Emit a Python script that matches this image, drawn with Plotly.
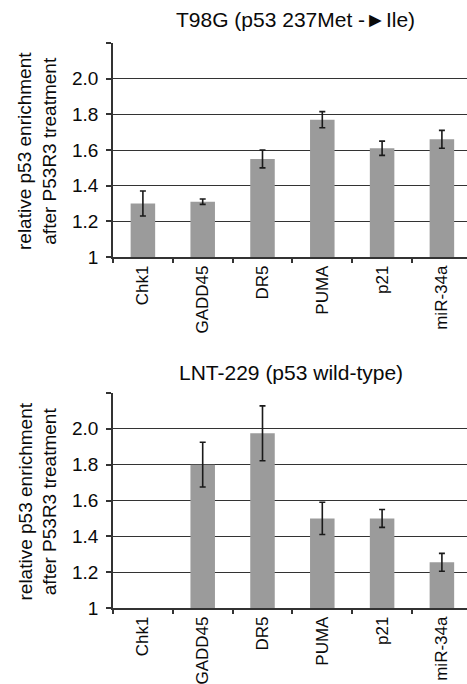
import plotly.graph_objects as go

genes = ["Chk1", "GADD45", "DR5", "PUMA", "p21", "miR-34a"]

t98g_values = [1.30, 1.31, 1.55, 1.77, 1.61, 1.66]
t98g_errors = [0.07, 0.015, 0.05, 0.045, 0.04, 0.05]

lnt_values = [None, 1.80, 1.975, 1.50, 1.50, 1.255]
lnt_errors = [None, 0.125, 0.153, 0.09, 0.05, 0.05]

y_tickvals = [1, 1.2, 1.4, 1.6, 1.8, 2.0, 2.2]
y_ticktext = ["1", "1.2", "1.4", "1.6", "1.8", "2.0", ""]

titles = ["T98G (p53 237Met -►Ile)", "LNT-229 (p53 wild-type)"]
y_title = "relative p53 enrichment<br>after P53R3 treatment"

W, H = 467, 684
FONT = "Liberation Sans, Arial, sans-serif"
BAR = "#9b9b9b"
LINE = "#333333"
TXT = "#0a0a0a"

fig = go.Figure()

x0_px = 113
cat_px = 59.8
panels = [
    dict(top=43, bottom=257, vals=t98g_values, errs=t98g_errors, title_y=19, title_x=295),
    dict(top=393, bottom=608, vals=lnt_values, errs=lnt_errors, title_y=373, title_x=291),
]

xr = [-0.5, -0.5 + (W - x0_px) / cat_px]

for i, p in enumerate(panels):
    xa = "x" if i == 0 else "x2"
    ya = "y" if i == 0 else "y2"
    fig.add_trace(go.Bar(
        x=genes, y=[None if v is None else v - 1 for v in p["vals"]], base=1,
        marker=dict(color=BAR, line=dict(width=0)),
        width=0.41,
        error_y=dict(type="data", array=p["errs"], color="#1a1a1a", thickness=1.6, width=3),
        xaxis=xa, yaxis=ya, showlegend=False,
    ))
    dom = [1 - p["bottom"] / H, 1 - p["top"] / H]
    axis_x = dict(
        domain=[x0_px / W, 1], range=xr, type="category",
        categoryorder="array", categoryarray=genes,
        tickangle=-90, tickfont=dict(family=FONT, size=17, color=TXT),
        showline=True, linecolor=LINE, linewidth=1.5,
        ticks="outside", tickson="boundaries", ticklen=4, tickcolor=LINE, tickwidth=1.5,
        showgrid=False, automargin=False, anchor=ya, fixedrange=True,
    )
    axis_y = dict(
        domain=dom, range=[1, 2.2],
        tickmode="array", tickvals=y_tickvals, ticktext=y_ticktext,
        tickfont=dict(family=FONT, size=19, color=TXT),
        showline=True, linecolor=LINE, linewidth=1.5,
        ticks="outside", ticklen=5, tickcolor=LINE, tickwidth=1.5,
        showgrid=True, gridcolor=LINE, gridwidth=1.3,
        zeroline=False, automargin=False, anchor=xa, fixedrange=True,
        ticklabelstandoff=4,
    )
    if i == 0:
        fig.update_layout(xaxis=axis_x, yaxis=axis_y)
    else:
        fig.update_layout(xaxis2=axis_x, yaxis2=axis_y)

    fig.add_annotation(
        text=titles[i], xref="paper", yref="paper",
        x=p["title_x"] / W, y=1 - p["title_y"] / H,
        xanchor="center", yanchor="middle", showarrow=False,
        font=dict(family=FONT, size=21, color=TXT),
    )
    fig.add_annotation(
        text=y_title, xref="paper", yref="paper",
        x=37 / W, y=1 - ((p["top"] + p["bottom"]) / 2 + 1) / H,
        xanchor="center", yanchor="middle", showarrow=False, textangle=-90,
        font=dict(family=FONT, size=19, color=TXT),
    )

fig.update_layout(
    width=W, height=H,
    margin=dict(l=0, r=0, t=0, b=0),
    paper_bgcolor="white", plot_bgcolor="white",
)

fig.write_html("out.html")
